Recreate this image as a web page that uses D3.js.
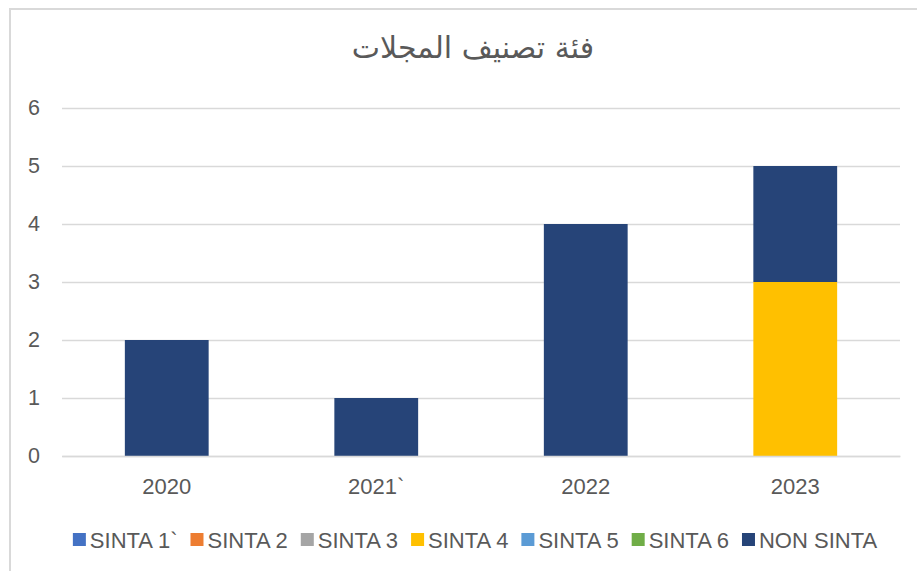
<!DOCTYPE html>
<html>
<head>
<meta charset="utf-8">
<script src="https://cdn.jsdelivr.net/npm/d3@7"></script>
<style>
  body { margin: 0; background: #fff; }
  text { font-family: "Liberation Sans", Arial, sans-serif; }
</style>
</head>
<body>
<div id="chart"></div>
<script>
// données du graphique
const annees = ["2020", "2021`", "2022", "2023"];
const series = ["SINTA 1`", "SINTA 2", "SINTA 3", "SINTA 4", "SINTA 5", "SINTA 6", "NON SINTA"];
const couleurs = ["#4472C4", "#ED7D31", "#A5A5A5", "#FFC000", "#5B9BD5", "#70AD47", "#264478"];
const sinta1 = [0, 0, 0, 0];
const sinta2 = [0, 0, 0, 0];
const sinta3 = [0, 0, 0, 0];
const sinta4 = [0, 0, 0, 3];
const sinta5 = [0, 0, 0, 0];
const sinta6 = [0, 0, 0, 0];
const nonSinta = [2, 1, 4, 2];
const ticksY = [0, 1, 2, 3, 4, 5, 6];
const titre = "فئة تصنيف المجلات";

const valeurs = [sinta1, sinta2, sinta3, sinta4, sinta5, sinta6, nonSinta];
const tableau = annees.map((a, i) => {
    const ligne = { annee: a };
    series.forEach((s, j) => { ligne[s] = valeurs[j][i]; });
    return ligne;
});

const width = 917, height = 571;
const margin = { top: 108, right: 17, bottom: 115, left: 62 };

const svg = d3.select("#chart").append("svg")
    .attr("width", width)
    .attr("height", height);

// cadre du graphique
svg.append("rect")
    .attr("x", 10).attr("y", 9)
    .attr("width", 920).attr("height", 580)
    .attr("fill", "#fff")
    .attr("stroke", "#d9d9d9")
    .attr("stroke-width", 2);

const echelleX = d3.scaleBand()
    .domain(annees)
    .range([margin.left, width - margin.right])
    .paddingInner(0.6)
    .paddingOuter(0.3);

const echelleY = d3.scaleLinear()
    .domain([0, 6])
    .range([height - margin.bottom, margin.top]);

// lignes de grille + étiquettes Y
const axeY = d3.axisLeft(echelleY)
    .tickValues(ticksY)
    .tickFormat(d3.format("d"))
    .tickSize(-(width - margin.left - margin.right))
    .tickPadding(22);

const gY = svg.append("g")
    .attr("transform", "translate(" + margin.left + ",0)")
    .call(axeY);
gY.select(".domain").remove();
gY.selectAll("line").attr("stroke", "#d9d9d9").attr("stroke-width", 1.3);
gY.selectAll("text")
    .attr("fill", "#595959")
    .style("font-size", "21.5px");

// barres empilées
const pile = d3.stack().keys(series)(tableau);

svg.append("g")
    .selectAll("g")
    .data(pile)
    .join("g")
    .attr("fill", (d, i) => couleurs[i])
    .selectAll("rect")
    .data(d => d.filter(p => p[1] > p[0]))
    .join("rect")
    .attr("x", d => echelleX(d.data.annee))
    .attr("y", d => echelleY(d[1]))
    .attr("width", echelleX.bandwidth())
    .attr("height", d => echelleY(d[0]) - echelleY(d[1]));

// axe X
const axeX = d3.axisBottom(echelleX).tickSize(0).tickPadding(22);
const gX = svg.append("g")
    .attr("transform", "translate(0," + (height - margin.bottom) + ")")
    .call(axeX);
gX.select(".domain").attr("stroke", "#d9d9d9").attr("stroke-width", 1.5);
gX.selectAll("text")
    .attr("fill", "#595959")
    .style("font-size", "22px");

// titre
svg.append("text")
    .attr("x", 473)
    .attr("y", 58)
    .attr("text-anchor", "middle")
    .attr("fill", "#595959")
    .style("font-family", "'DejaVu Sans', sans-serif")
    .style("font-size", "30px")
    .attr("direction", "rtl")
    .text(titre);

// légende
const legende = svg.append("g");
const items = legende.selectAll("g")
    .data(series)
    .join("g");
items.append("rect")
    .attr("width", 13).attr("height", 13)
    .attr("y", -7)
    .attr("fill", (d, i) => couleurs[i]);
items.append("text")
    .attr("x", 17)
    .attr("dy", "0.36em")
    .attr("fill", "#595959")
    .style("font-size", "22px")
    .text(d => d);

let posX = 0;
items.each(function () {
    const largeur = d3.select(this).select("text").node().getComputedTextLength();
    d3.select(this).attr("transform", "translate(" + posX + ",0)");
    posX += 17 + largeur + 13;
});
posX -= 13;
legende.attr("transform", "translate(" + (475 - posX / 2) + ",540)");
</script>
</body>
</html>
